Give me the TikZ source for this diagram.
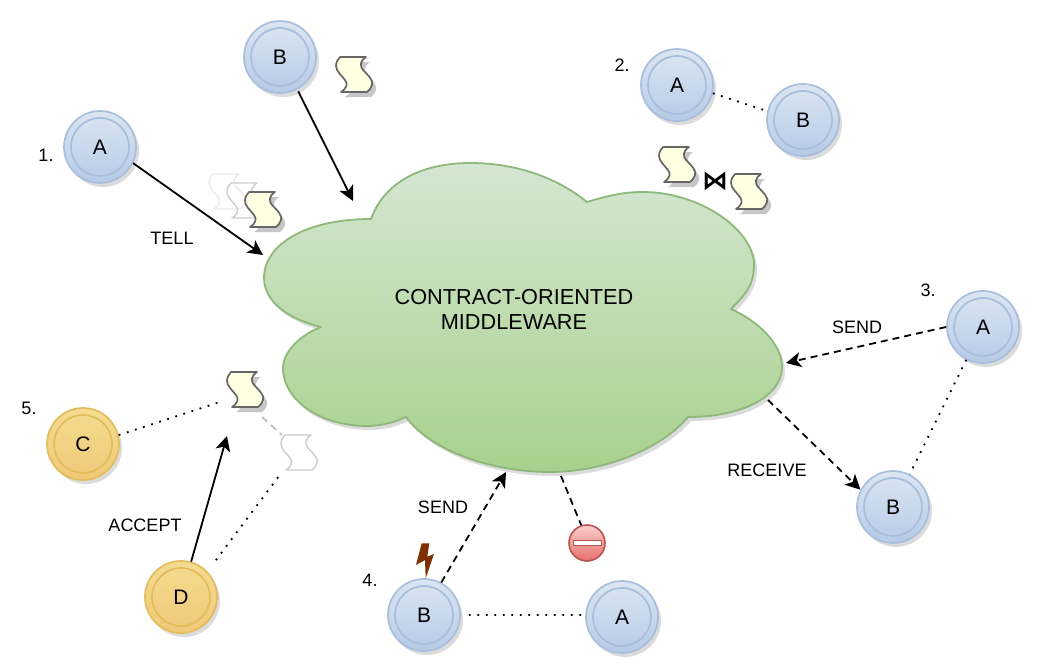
\documentclass[tikz,border=0pt]{standalone}
\usepackage{fontspec}
\setmainfont{Liberation Sans}
\newfontfamily\symbfont{DejaVu Sans}
\usetikzlibrary{arrows.meta,shadows}
\definecolor{agentline}{HTML}{A8BEDD}
\definecolor{agenttop}{HTML}{DCE6F3}
\definecolor{agentbot}{HTML}{B6CAE6}
\definecolor{coinline}{HTML}{E3BC5C}
\definecolor{cointop}{HTML}{F4DC90}
\definecolor{coinbot}{HTML}{F0C878}
\definecolor{cloudline}{HTML}{8CB97A}
\definecolor{cloudtop}{HTML}{D5E6D2}
\definecolor{cloudbot}{HTML}{A8D18C}
\definecolor{paper}{HTML}{FFFFE2}
\definecolor{fault}{HTML}{7F3000}
\definecolor{stopline}{HTML}{B85450}
\definecolor{stoptop}{HTML}{F8CECC}
\definecolor{stopbot}{HTML}{E8706C}
\tikzset{
	softshadow/.style={drop shadow={shadow xshift=3pt,shadow yshift=-4pt,fill=black!14,opacity=1}},
	agent/.style={circle,draw=agentline,line width=1.7pt,minimum size=72pt,inner sep=0pt,font=\fontsize{21}{21}\selectfont,
		top color=agenttop,bottom color=agentbot,softshadow,
		path picture={\draw[agentline,line width=1.7pt] (path picture bounding box.center) circle (29pt);}},
	coin/.style={agent,draw=coinline,top color=cointop,bottom color=coinbot,
		path picture={\draw[coinline,line width=1.7pt] (path picture bounding box.center) circle (29pt);}},
	contract/.pic={\path[pic actions] (4,0) -- (30,0) .. controls (24,4) and (23,9) .. (28,14)
		.. controls (32,18) and (38,24) .. (36,28) .. controls (35,31) and (33,34) .. (31,35)
		-- (5,35) .. controls (11,31) and (12,27) .. (9,23) .. controls (6,19) and (0,14) .. (0,9)
		.. controls (0,5) and (2,2) .. (4,0) -- cycle;},
	livecontract/.style={draw=black!60,line width=1.7pt,fill=paper},
	shadecontract/.style={fill=black!22},
	ghostcontract/.style={draw=black!#1,line width=1.4pt},
	tell/.style={-{Stealth[length=15pt,width=15pt,inset=4pt]},line width=1.8pt},
	msg/.style={tell,dash pattern=on 7pt off 5pt},
	link/.style={line width=1.8pt,dash pattern=on 1.8pt off 6.7pt},
	lab/.style={font=\fontsize{18}{18}\selectfont,inner sep=0pt},
}
\begin{document}
\begin{tikzpicture}[x=1pt,y=-1pt,line join=round]
	\useasboundingbox (0,0) rectangle (1042,672);
	% middleware
	\path[draw=cloudline,line width=1.8pt,top color=cloudtop,bottom color=cloudbot,softshadow]
		(371,219) .. controls (385,180) and (425,163) .. (470,163)
		.. controls (520,163) and (560,180) .. (587,202)
		.. controls (610,195) and (625,192) .. (643,192)
		.. controls (700,192) and (754,230) .. (754,265)
		.. controls (754,285) and (745,295) .. (731,309)
		.. controls (760,322) and (782,345) .. (782,367)
		.. controls (782,395) and (745,417) .. (688,417)
		.. controls (665,445) and (610,472) .. (550,472)
		.. controls (490,472) and (430,450) .. (406,417)
		.. controls (395,422) and (382,426) .. (367,426)
		.. controls (320,426) and (283,400) .. (283,368)
		.. controls (283,352) and (300,335) .. (321,327)
		.. controls (285,318) and (264,300) .. (264,278)
		.. controls (264,245) and (305,219) .. (371,219) -- cycle;
	\node[align=center,font=\fontsize{21.7}{25}\selectfont] (mw) at (514,309) {CONTRACT-ORIENTED\\MIDDLEWARE};
	% agents
	\node[agent] (a1) at (100,147) {A};
	\node[agent] (b1) at (280,57) {B};
	\node[agent] (a2) at (677,85) {A};
	\node[agent] (b2) at (803,120) {B};
	\node[agent] (a3) at (983,327) {A};
	\node[agent] (b3) at (893,507) {B};
	\node[agent] (b4) at (424,615) {B};
	\node[agent] (a4) at (622,617) {A};
	\node[coin] (c5) at (83,444) {C};
	\node[coin] (d5) at (181,597) {D};
	% contracts
	\foreach \px/\py in {336/57,245/192,659/147,731/174,227/372}
		\pic[shadecontract] at (\px+4,\py+5) {contract};
	\pic[livecontract] at (336,57) {contract};
	\pic[ghostcontract=8] at (209,174) {contract};
	\pic[ghostcontract=20] at (227,183) {contract};
	\pic[livecontract] at (245,192) {contract};
	\pic[livecontract] at (659,147) {contract};
	\pic[livecontract] at (731,174) {contract};
	\pic[livecontract] at (227,372) {contract};
	\pic[ghostcontract=20] at (281,435) {contract};
	\node[inner sep=0pt,font=\symbfont\bfseries\fontsize{26}{26}\selectfont] (join) at (715,181) {⋈};
	% free ends
	\coordinate (tellend) at (263,255);
	\coordinate (tellendb) at (353,201);
	\coordinate (sendend) at (786,363);
	\coordinate (recvstart) at (768,400);
	\coordinate (sendendb) at (506,472);
	\coordinate (blockstart) at (561,476);
	\coordinate (acceptend) at (227,436);
	\coordinate (offernw) at (223,401);
	\coordinate (offerse) at (262,417);
	\coordinate (ghostnw) at (282,435);
	\coordinate (ghostsw) at (282,472);
	% stop sign and fault
	\node[circle,draw=stopline,line width=1.6pt,minimum size=36pt,inner sep=0pt,top color=stoptop,bottom color=stopbot] (stop) at (587,543) {};
	\node[draw=stopline,fill=white,line width=1pt,minimum width=28pt,minimum height=5.5pt,inner sep=0pt] (stopbar) at (587,543) {};
	\fill[fault] (421.7,543.3) -- (429.3,543.3) -- (427.3,556.7) -- (434,554) -- (425.7,578.3) -- (425,560) -- (416,565) -- cycle;
	% connectors
	\draw[tell] (a1.-26) -- (tellend);
	\draw[tell,shorten <=2pt] (b1.-62) -- (tellendb);
	\draw[link] (a2.-13) -- (b2.166);
	\draw[msg] (a3.180) -- (sendend);
	\draw[msg] (recvstart) -- (b3.152);
	\draw[link] (a3.-117) -- (b3.63);
	\draw[msg] (b4.62) -- (sendendb);
	\draw[line width=1.8pt,dash pattern=on 7pt off 5pt] (blockstart) -- (stop.108);
	\draw[link,shorten <=8pt] (b4.0) -- (a4.177);
	\draw[link] (c5.14) -- (offernw);
	\draw[tell] (d5.74) -- (acceptend);
	\draw[link,shorten <=14pt] (d5.44) -- (ghostsw);
	\draw[black!25,line width=1.8pt,dash pattern=on 7pt off 5pt] (offerse) -- (ghostnw);
	% labels
	\node[lab] (tell) at (172,238) {TELL};
	\node[lab] (send3) at (857,327) {SEND};
	\node[lab] (recv) at (767,470) {RECEIVE};
	\node[lab] (accept) at (145,525) {ACCEPT};
	\node[lab] (send4) at (443,507) {SEND};
	\node[lab] (n1) at (46,155) {1.};
	\node[lab] (n2) at (622,65) {2.};
	\node[lab] (n3) at (928,290) {3.};
	\node[lab] (n4) at (370,580) {4.};
	\node[lab] (n5) at (29,408) {5.};
\end{tikzpicture}
\end{document}
